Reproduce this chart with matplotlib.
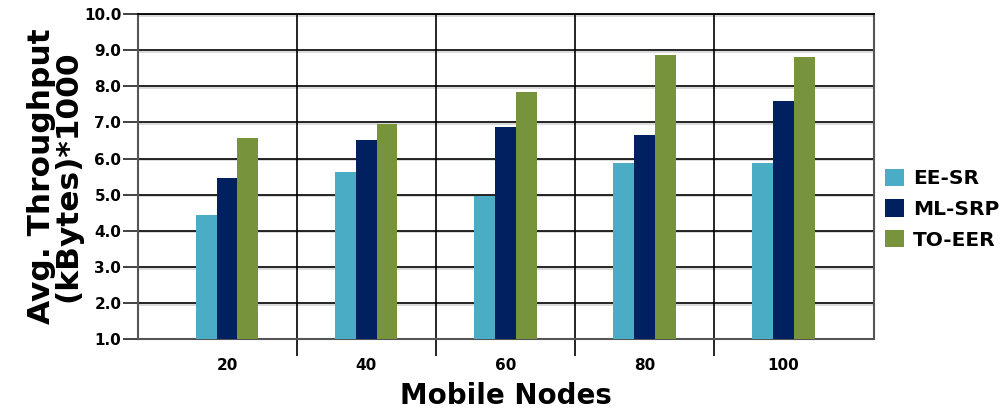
import numpy as np
import matplotlib
matplotlib.use('Agg')
from matplotlib import pyplot as plt
from matplotlib import patheffects as pe

nodes = ['20', '40', '60', '80', '100']
ee_sr = [4.43, 5.63, 4.96, 5.87, 5.87]
ml_srp = [5.46, 6.51, 6.87, 6.65, 7.59]
to_eer = [6.57, 6.97, 7.84, 8.87, 8.81]
series = ['EE-SR', 'ML-SRP', 'TO-EER']
colors = ['#4BACC6', '#002060', '#77933C']
yticks = np.arange(1.0, 10.01, 1.0)

plt.rcParams['font.family'] = ['DejaVu Sans']
plt.rcParams['font.weight'] = 'bold'

fig = plt.figure(figsize=(10.08, 4.17), dpi=100)
ax = fig.add_axes([0.1369, 0.187, 0.7302, 0.779])

x = np.arange(len(nodes))
w = 0.15
for i, (vals, name, col) in enumerate(zip([ee_sr, ml_srp, to_eer], series, colors)):
    ax.bar(x + (i - 1) * w, vals, width=w, color=col, label=name, zorder=3)

ax.set_xlim(-0.64, 4.65)
ax.set_ylim(1.0, 10.0)
ax.set_yticks(yticks)
ax.set_yticklabels(['%.1f' % v for v in yticks])
ax.set_xticks(x)
ax.set_xticklabels(nodes)
ax.set_xticks(x[:-1] + 0.5, minor=True)

# horizontal grid with light shadow
for v in yticks[1:]:
    ax.axhline(v, color='black', lw=1.2, zorder=1,
               path_effects=[pe.SimpleLineShadow(offset=(0, -1.2), shadow_color='#aaaaaa', alpha=0.5),
                             pe.Normal()])
for v in x[:-1] + 0.5:
    ax.axvline(v, color='black', lw=1.2, zorder=1)

ax.tick_params(axis='y', which='major', length=11, width=1.3, color='#333333',
               labelsize=11, pad=1)
ax.tick_params(axis='x', which='major', length=0, labelsize=11, pad=14)
ax.tick_params(axis='x', which='minor', length=12, width=1.2, color='black')

for s in ['left', 'bottom', 'right']:
    ax.spines[s].set_color('#555555')
    ax.spines[s].set_linewidth(1.5)
ax.spines['top'].set_color('black')
ax.spines['top'].set_linewidth(1.3)

ax.set_ylabel('Avg. Throughput\n(kBytes)*1000', fontsize=22.5, fontweight='bold',
              linespacing=0.9, labelpad=1)
ax.set_xlabel('Mobile Nodes', fontsize=20, fontweight='bold', labelpad=6)

ax.legend(loc='center left', bbox_to_anchor=(1.012, 0.40), frameon=False,
          handlelength=0.95, handleheight=0.95, handletextpad=0.45,
          labelspacing=0.55, borderaxespad=0.0, borderpad=0.1,
          prop={'weight': 'bold', 'size': 14.5})

fig.savefig('out.png', dpi=100)
